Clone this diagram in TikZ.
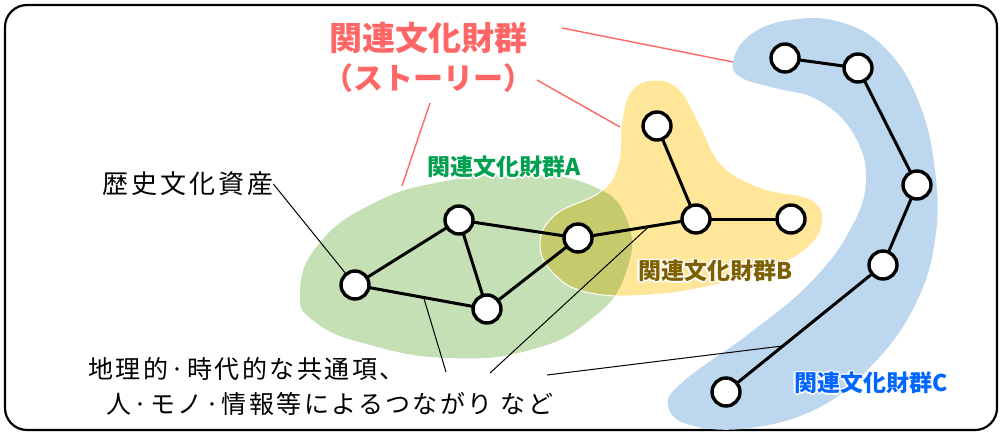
\documentclass[tikz,border=0pt]{standalone}
\usepackage{fontspec}
\newfontfamily\jp{Noto Sans CJK JP}
\newfontfamily\jpls[LetterSpace=10]{Noto Sans CJK JP}
\newfontfamily\jplsa[LetterSpace=11]{Noto Sans CJK JP}
\usetikzlibrary{calc}
\definecolor{gfill}{HTML}{C5E0B4}
\definecolor{yfill}{HTML}{FFE699}
\definecolor{bfill}{HTML}{BDD7EE}
\definecolor{ofill}{HTML}{C5CA6C}
\definecolor{titlered}{HTML}{FF6666}
\definecolor{labA}{HTML}{00A050}
\definecolor{labB}{HTML}{7F6000}
\definecolor{labC}{HTML}{0066FF}
\newcommand{\haloLabel}[4]{%
  \foreach \dx/\dy in {-1.6/0,1.6/0,0/-1.6,0/1.6,-1.15/-1.15,1.15/1.15,-1.15/1.15,1.15/-1.15}{%
    \node[grplab, text=white, xshift=\dx pt, yshift=\dy pt] at (#2) {#4};}
  \node[grplab, text=#3] (#1) at (#2) {#4};}
\begin{document}
\begin{tikzpicture}[x=1pt,y=-1pt,
  cnode/.style={circle,draw=black,fill=white,line width=3.4pt,minimum size=28pt,inner sep=0pt},
  link/.style={line width=3pt},
  leader/.style={line width=1pt,black},
  redline/.style={line width=1.4pt,titlered},
  grplab/.style={font=\jp\bfseries\fontsize{23}{27}\selectfont, inner sep=0pt},
  titlelab/.style={font=\jp\bfseries\fontsize{33}{40}\selectfont, text=titlered, inner sep=0pt},
  blacklab/.style={font=\jpls\fontsize{25}{30}\selectfont, inner sep=0pt}
]
\useasboundingbox (0,0) rectangle (1000,433);
\draw[line width=2.2pt, rounded corners=22pt] (5,5) rectangle (997,430);

% blobs
\fill[gfill] plot[smooth cycle,tension=0.8] coordinates {(300,292) (318,245) (370,205) (440,182) (520,175) (590,185) (627,220) (625,275) (590,320) (530,350) (450,358) (370,345) (315,322)};
\fill[yfill] plot[smooth cycle,tension=0.7] coordinates {(540,245) (555,215) (600,192) (618,165) (622,120) (632,90) (655,80) (680,90) (700,125) (722,165) (762,188) (812,200) (822,225) (805,250) (770,268) (715,285) (650,295) (590,293) (555,275)};
\begin{scope}
  \clip plot[smooth cycle,tension=0.8] coordinates {(300,292) (318,245) (370,205) (440,182) (520,175) (590,185) (627,220) (625,275) (590,320) (530,350) (450,358) (370,345) (315,322)};
  \fill[ofill] plot[smooth cycle,tension=0.7] coordinates {(540,245) (555,215) (600,192) (618,165) (622,120) (632,90) (655,80) (680,90) (700,125) (722,165) (762,188) (812,200) (822,225) (805,250) (770,268) (715,285) (650,295) (590,293) (555,275)};
\end{scope}
\draw[white, line width=1pt] plot[smooth cycle,tension=0.7] coordinates {(540,245) (555,215) (600,192) (618,165) (622,120) (632,90) (655,80) (680,90) (700,125) (722,165) (762,188) (812,200) (822,225) (805,250) (770,268) (715,285) (650,295) (590,293) (555,275)};
\fill[bfill] plot[smooth cycle,tension=0.7] coordinates {(733,62) (750,35) (790,20) (840,22) (885,48) (918,100) (935,170) (935,240) (915,305) (875,362) (820,407) (750,428) (690,425) (668,405) (685,380) (750,333) (810,283) (850,230) (866,180) (853,133) (818,100) (775,88) (742,78)};

% node positions
\coordinate (p1) at (355,285);
\coordinate (p2) at (459,220);
\coordinate (p3) at (487,309);
\coordinate (p4) at (578,238);
\coordinate (p5) at (696,219);
\coordinate (p6) at (791,219);
\coordinate (p7) at (657,126);
\coordinate (q1) at (785,58);
\coordinate (q2) at (858,68);
\coordinate (q3) at (917,185);
\coordinate (q4) at (883,265);
\coordinate (q5) at (726,392);

% texts
\node[titlelab] (title1) at (428,38) {関連文化財群};
\node[titlelab, font=\jp\bfseries\fontsize{30}{36}\selectfont] (title2) at (428,78) {（ストーリー）};
\node[blacklab, font=\jplsa\fontsize{26}{30}\selectfont] (asset) at (188,184) {歴史文化資産};
\node[blacklab, anchor=west] (bottom1) at (88,369) {地理的·時代的な共通項、};
\node[blacklab, anchor=west] (bottom2) at (106,404) {人·モノ·情報等によるつながり など};

% red leader lines
\coordinate (r1s) at (562,28);
\coordinate (r1e) at (733,62);
\coordinate (r2s) at (537,80);
\coordinate (r2e) at (620,127);
\coordinate (r3s) at (430,103);
\coordinate (r3e) at (402,186);
\draw[redline] (r1s) -- (r1e);
\draw[redline] (r2s) -- (r2e);
\draw[redline] (r3s) -- (r3e);

% black leader lines
\coordinate (s1) at (446,372);
\coordinate (s2) at (490,373);
\coordinate (s3) at (547,375);
\draw[leader] (asset.east) -- (p1);
\draw[leader] (s1) -- ($(p1)!0.52!(p3)$);
\draw[leader] (s2) -- ($(p4)!0.6!(p5)$);
\draw[leader] (s3) -- ($(q4)!0.637!(q5)$);

% edges
\draw[link] (p1) -- (p2);
\draw[link] (p1) -- (p3);
\draw[link] (p2) -- (p3);
\draw[link] (p2) -- (p4);
\draw[link] (p3) -- (p4);
\draw[link] (p4) -- (p5);
\draw[link] (p5) -- (p7);
\draw[link] (p5) -- (p6);
\draw[link] (q1) -- (q2);
\draw[link] (q2) -- (q3);
\draw[link] (q3) -- (q4);
\draw[link] (q4) -- (q5);

% nodes
\foreach \n in {p1,p2,p3,p4,p5,p6,p7,q1,q2,q3,q4,q5}{\node[cnode] (n\n) at (\n) {};}

% group labels with white halo
\haloLabel{labelA}{504,167}{labA}{関連文化財群A}
\haloLabel{labelB}{715,271}{labB}{関連文化財群B}
\haloLabel{labelC}{871,383}{labC}{関連文化財群C}
\end{tikzpicture}
\end{document}
